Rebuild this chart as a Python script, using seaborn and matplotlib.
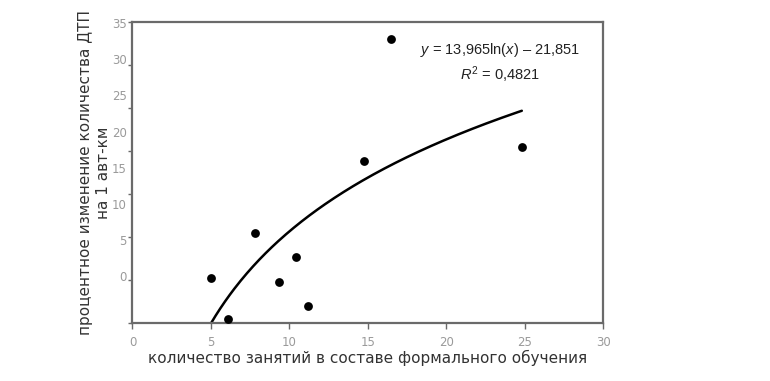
import numpy as np
import pandas as pd
import matplotlib
matplotlib.use('Agg')
import matplotlib.pyplot as plt
from matplotlib.ticker import FixedLocator
import seaborn as sns

# данные
lessons = [5.0, 6.1, 7.8, 9.35, 10.4, 11.2, 14.75, 16.45, 24.8]
change = [-0.3, -6.0, 6.0, -0.8, 2.6, -4.2, 15.9, 32.8, 17.8]
x_ticks = [0, 5, 10, 15, 20, 25, 30]
y_ticks = [0, 5, 10, 15, 20, 25, 30, 35]
eq_text = r'$y$ = 13,965ln($x$) – 21,851'
r2_text = r'$R^{\mathrm{2}}$ = 0,4821'

df = pd.DataFrame({'lessons': lessons, 'change': change})

# логарифмический тренд
a, b = np.polyfit(np.log(df['lessons']), df['change'], 1)
trend = pd.DataFrame({'x': np.linspace(min(lessons), max(lessons), 200)})
trend['y'] = a * np.log(trend['x']) + b

sns.set_style('white')
plt.rcParams['font.family'] = ['DejaVu Sans']
plt.rcParams['mathtext.fontset'] = 'custom'
plt.rcParams['mathtext.rm'] = 'Liberation Sans'
plt.rcParams['mathtext.it'] = 'Liberation Sans:italic'

fig = plt.figure(figsize=(7.7, 3.81), dpi=100)
ax = fig.add_axes([0.172, 0.1514, 0.6117, 0.7916])

sns.lineplot(data=trend, x='x', y='y', color='black', linewidth=1.8, ax=ax)
sns.scatterplot(data=df, x='lessons', y='change', color='black', s=40,
                edgecolor='black', linewidth=0, ax=ax, zorder=3)

ax.set_xlim(0, 30)
ax.set_ylim(-6.55, 35.2)

grey = '#6a6a6a'
for sp in ax.spines.values():
    sp.set_color(grey)
    sp.set_linewidth(1.6)

ax.set_xticks(x_ticks)
ax.set_xticklabels([str(v) for v in x_ticks])
ax.tick_params(axis='x', direction='out', length=4, width=1, color=grey,
               labelsize=8.5, labelcolor='#9a9a9a', pad=5, bottom=True)

# подписи по оси y не совпадают с делениями, как в оригинале
ax.set_yticks(y_ticks)
ax.set_yticklabels([str(v) for v in y_ticks])
ax.tick_params(axis='y', which='major', length=0, labelsize=8.5,
               labelcolor='#9a9a9a', pad=4, left=True)
ax.yaxis.set_minor_locator(FixedLocator(np.linspace(-6.55, 35.2, 8)))
ax.tick_params(axis='y', which='minor', direction='out', length=3, width=1,
               color=grey, left=True)

ax.set_xlabel('количество занятий в составе формального обучения',
              fontsize=11, color='#333333', labelpad=1)
ax.set_ylabel('процентное изменение количества ДТП\nна 1 авт-км',
              fontsize=11, color='#333333', labelpad=1)

ax.text(0.78, 0.906, eq_text, transform=ax.transAxes, ha='center',
        va='center', fontsize=10.5, family='Liberation Sans', color='#222222')
ax.text(0.78, 0.823, r2_text, transform=ax.transAxes, ha='center',
        va='center', fontsize=10.5, family='Liberation Sans', color='#222222')

fig.savefig('out.png', dpi=100)
